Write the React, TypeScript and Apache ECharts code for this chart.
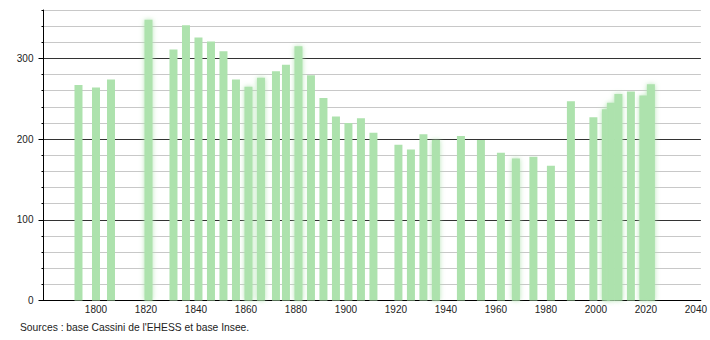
import React, { useEffect, useRef } from "react";
import * as echarts from "echarts";

const years = [1793, 1800, 1806, 1821, 1831, 1836, 1841, 1846, 1851, 1856, 1861, 1866, 1872, 1876, 1881, 1886, 1891, 1896, 1901, 1906, 1911, 1921, 1926, 1931, 1936, 1946, 1954, 1962, 1968, 1975, 1982, 1990, 1999, 2004, 2006, 2009, 2014, 2019, 2022];
const population = [267, 264, 274, 348, 311, 341, 326, 321, 309, 274, 265, 276, 284, 292, 315, 279, 251, 228, 220, 226, 208, 193, 187, 206, 199, 204, 199, 183, 176, 178, 167, 247, 227, 237, 245, 256, 259, 254, 268];
const blurredYears = [1821, 1861, 1866, 1881, 1936, 1968, 2004, 2006, 2009, 2019, 2022];
const xTickLabels = [1800, 1820, 1840, 1860, 1880, 1900, 1920, 1940, 1960, 1980, 2000, 2020, 2040];
const yTickLabels = [0, 100, 200, 300];
const sourceText = "Sources : base Cassini de l'EHESS et base Insee.";

const BAR = "#ade2ad";
const FONT = "'Liberation Sans', Arial, sans-serif";

export default function App() {
  const ref = useRef<HTMLDivElement>(null);
  useEffect(() => {
    if (!ref.current) return;
    const chart = echarts.init(ref.current, null, { renderer: "svg" });
    const data = years.map((y, i) => {
      const blur = blurredYears.includes(y);
      return {
        value: [y, population[i]],
        itemStyle: blur
          ? { color: BAR, shadowColor: "rgba(173,226,173,0.9)", shadowBlur: 5 }
          : { color: BAR },
      };
    });
    chart.setOption({
      animation: false,
      backgroundColor: "#ffffff",
      grid: { left: 43.5, right: 9, top: 10, bottom: 39.5, containLabel: false },
      xAxis: {
        type: "value",
        min: 1779,
        max: 2042,
        axisLine: { show: true, lineStyle: { color: "#000", width: 1 } },
        axisTick: { show: false },
        splitLine: { show: false },
        axisLabel: {
          customValues: xTickLabels,
          formatter: (v: number) => String(v),
          color: "#222",
          fontSize: 10,
          fontFamily: FONT,
          margin: 4,
          showMinLabel: true,
          showMaxLabel: true,
        },
      },
      yAxis: [
        {
          type: "value",
          min: 0,
          max: 360,
          interval: 20,
          axisLine: { show: true, lineStyle: { color: "#000", width: 1 } },
          axisTick: { show: true, length: 2, lineStyle: { color: "#000" } },
          splitLine: {
            show: true,
            lineStyle: { color: ["#333", "#c8c8c8", "#c8c8c8", "#c8c8c8", "#c8c8c8"], width: 1 },
          },
          axisLabel: {
            customValues: yTickLabels,
            formatter: (v: number) => String(v),
            color: "#222",
            fontSize: 10,
            fontFamily: FONT,
            margin: 10,
          },
        },
        {
          type: "value",
          min: 0,
          max: 360,
          position: "left",
          axisLine: { show: false },
          axisTick: { show: true, length: 5, customValues: yTickLabels, lineStyle: { color: "#000" } },
          splitLine: { show: false },
          axisLabel: { show: false },
        },
      ],
      series: [
        {
          type: "bar",
          yAxisIndex: 0,
          barWidth: 8,
          data,
          itemStyle: { color: BAR },
        },
      ],
      graphic: [
        {
          type: "text",
          left: 20,
          top: 322,
          style: { text: sourceText, fill: "#222", font: `10.3px ${FONT}` },
        },
      ],
    });
    return () => chart.dispose();
  }, []);
  return <div ref={ref} style={{ position: "fixed", left: 0, top: 0, width: 710, height: 340 }} />;
}
